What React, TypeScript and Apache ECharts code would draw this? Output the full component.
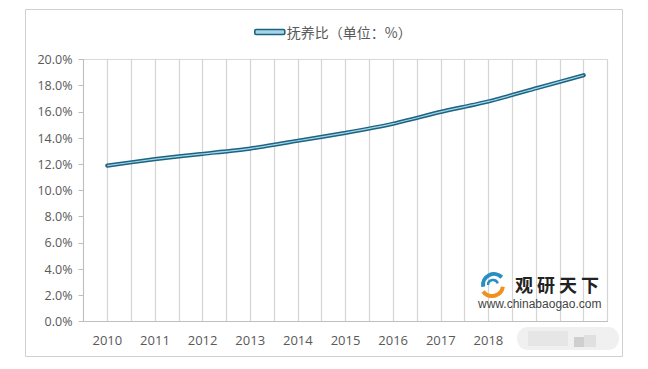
import React, { useEffect, useRef } from "react";
import * as echarts from "echarts";

const categories = ["2010", "2011", "2012", "2013", "2014", "2015", "2016", "2017", "2018", "2019", "2020"];
const shownLabels = ["2010", "2011", "2012", "2013", "2014", "2015", "2016", "2017", "2018"];
const ratioValues = [11.9, 12.4, 12.8, 13.2, 13.8, 14.4, 15.1, 16.0, 16.8, 17.8, 18.8];
const seriesName = "抚养比（单位：%）";
const brandChars = ["观", "研", "天", "下"];

export default function App() {
  const ref = useRef<HTMLDivElement>(null);
  useEffect(() => {
    if (!ref.current) return;
    const chart = echarts.init(ref.current, undefined, { renderer: "svg" });
    const font = "'Open Sans', 'Liberation Sans', sans-serif";
    const brand = brandChars.map((c, i) => ({
      type: "text",
      x: 515 + i * 22,
      y: 284,
      style: {
        text: c,
        font: "bold 18px 'Noto Sans CJK SC', sans-serif",
        fill: "#222222",
        verticalAlign: "middle",
        textAlign: "left",
      },
      z: 12,
    }));
    chart.setOption({
      animation: false,
      backgroundColor: "#ffffff",
      legend: {
        top: 20,
        left: 249,
        data: [
          {
            name: seriesName,
            icon: "roundRect",
            itemStyle: { color: "#a9d3e6", borderColor: "#1a6584", borderWidth: 1.6 },
          },
        ],
        itemWidth: 30,
        itemHeight: 5,
        itemGap: 4,
        textStyle: { fontSize: 14, color: "#595959", fontFamily: "'Noto Sans CJK SC', sans-serif", padding: [0, 0, 0, -3] },
      },
      grid: {
        left: 83.5,
        right: 40.5,
        top: 59.5,
        bottom: 47.5,
        show: true,
        borderColor: "#d9d9d9",
        borderWidth: 1,
      },
      xAxis: [
        {
          type: "category",
          data: categories,
          boundaryGap: true,
          axisLine: { lineStyle: { color: "#bfbfbf", width: 1 } },
          axisTick: { show: false },
          splitLine: { show: false },
          axisLabel: {
            margin: 12,
            fontSize: 13,
            color: "#595959",
            fontFamily: font,
            interval: 0,
            formatter: (v: string) => (shownLabels.includes(v) ? v : ""),
          },
        },
        {
          type: "value",
          min: 0,
          max: categories.length * 2,
          interval: 1,
          position: "bottom",
          axisLine: { show: false },
          axisTick: { show: false },
          axisLabel: { show: false },
          splitLine: { show: true, lineStyle: { color: "#d4d4d4", width: 1.2 } },
        },
      ],
      yAxis: {
        type: "value",
        min: 0,
        max: 20,
        interval: 2,
        axisLine: { show: true, lineStyle: { color: "#bfbfbf", width: 1 } },
        axisTick: { show: true, length: 5, lineStyle: { color: "#bfbfbf" } },
        splitLine: { show: false },
        axisLabel: {
          margin: 11,
          fontSize: 12.5,
          color: "#595959",
          fontFamily: font,
          formatter: (v: number) => v.toFixed(1) + "%",
        },
      },
      series: [
        {
          name: seriesName,
          type: "line",
          xAxisIndex: 0,
          data: ratioValues,
          symbol: "none",
          smooth: 0.15,
          lineStyle: { color: "#1a6584", width: 4.2, cap: "round" },
          z: 3,
        },
        {
          name: seriesName,
          type: "line",
          xAxisIndex: 0,
          data: ratioValues,
          symbol: "none",
          smooth: 0.15,
          lineStyle: { color: "#a9d3e6", width: 1.2 },
          z: 4,
        },
      ],
      graphic: [
        {
          type: "rect",
          shape: { x: 25.5, y: 9.5, width: 597, height: 347 },
          style: { fill: "none", stroke: "#d0d0d0", lineWidth: 1 },
          z: 10,
        },
        {
          type: "rect",
          shape: { x: 517, y: 327, width: 102, height: 23, r: 11 },
          style: { fill: "#f0f0f0" },
          z: 10,
        },
        {
          type: "rect",
          shape: { x: 528, y: 331, width: 40, height: 15 },
          style: { fill: "#e6e6e6" },
          z: 11,
        },
        {
          type: "rect",
          shape: { x: 574, y: 337, width: 10, height: 10 },
          style: { fill: "#cfcfcf" },
          z: 11,
        },
        {
          type: "rect",
          shape: { x: 584, y: 335, width: 12, height: 12 },
          style: { fill: "#e0e0e0" },
          z: 11,
        },
        {
          type: "arc",
          shape: { cx: 494, cy: 285, r: 11, startAngle: Math.PI * 0.95, endAngle: Math.PI * 1.75 },
          style: { stroke: "#2a8fc0", lineWidth: 4, fill: "none" },
          z: 12,
        },
        {
          type: "arc",
          shape: { cx: 492, cy: 285, r: 11, startAngle: Math.PI * 0.05, endAngle: Math.PI * 0.8 },
          style: { stroke: "#f0901e", lineWidth: 4, fill: "none" },
          z: 12,
        },
        {
          type: "arc",
          shape: { cx: 493, cy: 285, r: 5, startAngle: Math.PI * 1.0, endAngle: Math.PI * 1.9 },
          style: { stroke: "#2a8fc0", lineWidth: 2.5, fill: "none" },
          z: 12,
        },
        ...brand,
        {
          type: "text",
          x: 478,
          y: 304,
          style: {
            text: "www.chinabaogao.com",
            font: "12px 'Liberation Sans', Arial, sans-serif",
            fill: "#444444",
            verticalAlign: "middle",
            textAlign: "left",
          },
          z: 12,
        },
      ],
    });
    return () => chart.dispose();
  }, []);
  return (
    <div
      ref={ref}
      style={{ position: "absolute", left: 0, top: 0, width: 648, height: 369 }}
    />
  );
}
